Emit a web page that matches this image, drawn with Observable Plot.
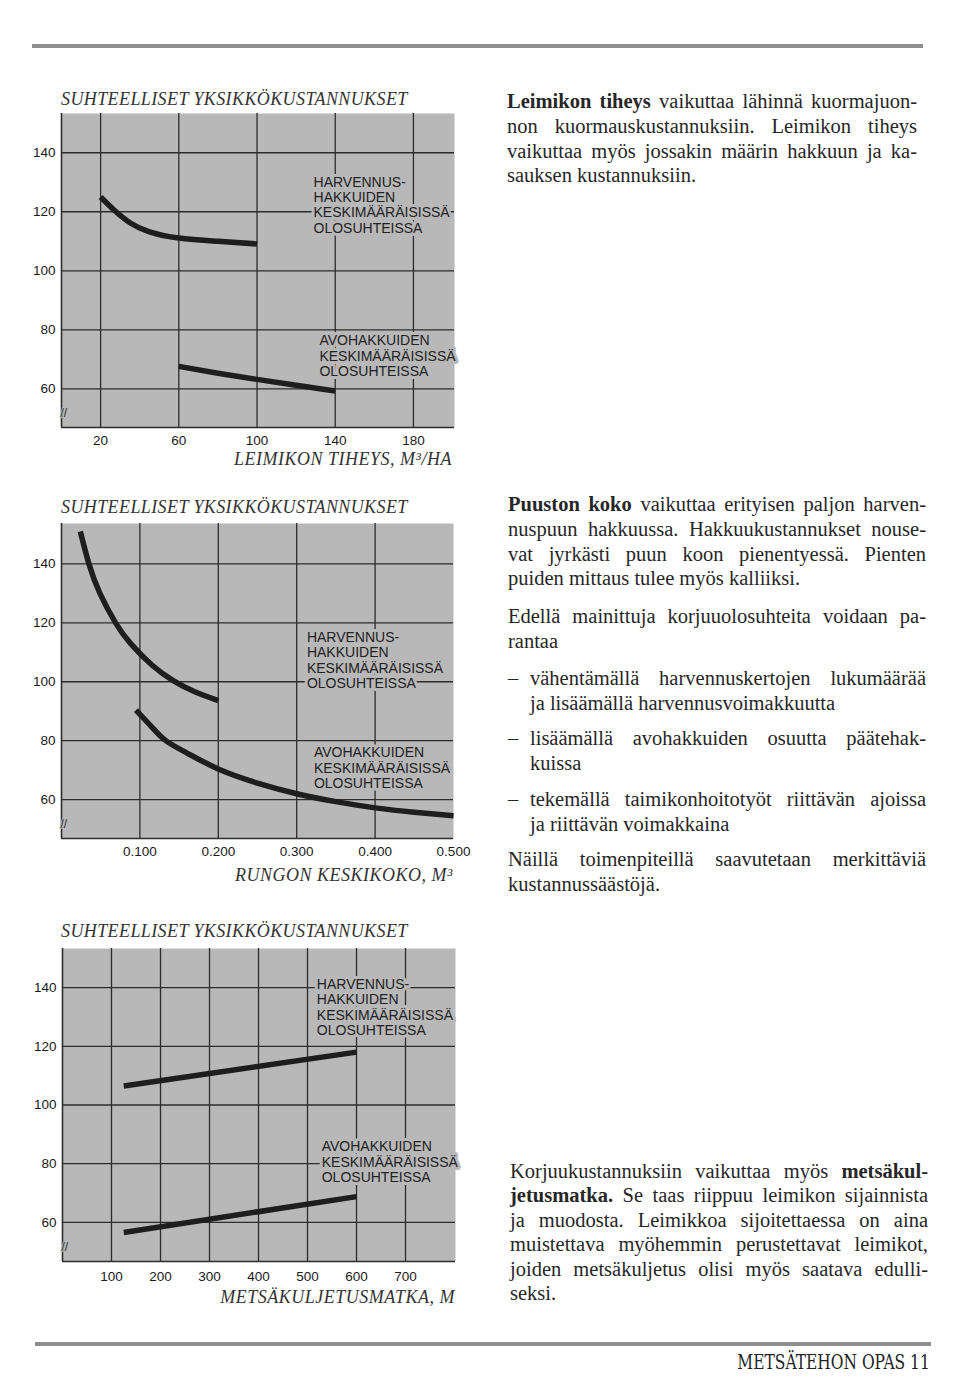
<!DOCTYPE html>
<html><head><meta charset="utf-8">
<script src="https://cdn.jsdelivr.net/npm/d3@7"></script>
<script src="https://cdn.jsdelivr.net/npm/@observablehq/plot@0.6"></script>
<style>
html,body{margin:0;padding:0;background:#fff;}
#page{position:relative;width:960px;height:1389px;overflow:hidden;background:#fff;color:#222;}
.rule{position:absolute;height:4px;background:#8e8e8e;}
.ctitle,.xlab{position:absolute;font-family:"Liberation Serif","Times New Roman",serif;font-style:italic;font-size:18px;line-height:20px;letter-spacing:0.4px;color:#333;white-space:nowrap;}
.xlab{text-align:right;letter-spacing:0.5px;}
.chart{position:absolute;left:0;}
.para{position:absolute;font-family:"Liberation Serif","Times New Roman",serif;font-size:20.5px;line-height:24.8px;color:#262626;}
.para .l{text-align:justify;text-align-last:justify;}
.para .l.last{text-align-last:left;}
.para b{font-weight:bold;}
.bul{padding-left:22px;}
.bul .dash{position:absolute;left:0;top:0;}
.footer{position:absolute;right:30px;top:1350px;font-family:"DejaVu Serif Condensed","DejaVu Serif",serif;font-size:20px;line-height:24px;color:#222;white-space:nowrap;transform:scaleX(0.86);transform-origin:right center;}
</style>
</head><body>
<div id="page">
  <div class="rule" style="left:32px;top:44px;width:891px;"></div>

  <div class="ctitle" style="left:61px;top:89px;">SUHTEELLISET YKSIKKÖKUSTANNUKSET</div>
  <div class="chart" id="c1" style="top:108px;"></div>
  <div class="xlab" style="right:508px;top:449px;">LEIMIKON TIHEYS, M³/HA</div>

  <div class="ctitle" style="left:61px;top:497px;">SUHTEELLISET YKSIKKÖKUSTANNUKSET</div>
  <div class="chart" id="c2" style="top:518px;"></div>
  <div class="xlab" style="right:507px;top:865px;">RUNGON KESKIKOKO, M³</div>

  <div class="ctitle" style="left:61px;top:921px;">SUHTEELLISET YKSIKKÖKUSTANNUKSET</div>
  <div class="chart" id="c3" style="top:943px;"></div>
  <div class="xlab" style="right:505px;top:1287px;">METSÄKULJETUSMATKA, M</div>

  <div class="para" style="left:507px;top:89px;width:410px;">
    <div class="l"><b>Leimikon tiheys</b> vaikuttaa lähinnä kuormajuon-</div>
    <div class="l">non kuormauskustannuksiin. Leimikon tiheys</div>
    <div class="l">vaikuttaa myös jossakin määrin hakkuun ja ka-</div>
    <div class="l last">sauksen kustannuksiin.</div>
  </div>

  <div class="para" style="left:508px;top:492px;width:418px;">
    <div class="l"><b>Puuston koko</b> vaikuttaa erityisen paljon harven-</div>
    <div class="l">nuspuun hakkuussa. Hakkuukustannukset nouse-</div>
    <div class="l">vat jyrkästi puun koon pienentyessä. Pienten</div>
    <div class="l last">puiden mittaus tulee myös kalliiksi.</div>
  </div>
  <div class="para" style="left:508px;top:604px;width:418px;">
    <div class="l">Edellä mainittuja korjuuolosuhteita voidaan pa-</div>
    <div class="l last">rantaa</div>
  </div>
  <div class="para bul" style="left:508px;top:666px;width:396px;">
    <span class="dash">–</span>
    <div class="l">vähentämällä harvennuskertojen lukumäärää</div>
    <div class="l last">ja lisäämällä harvennusvoimakkuutta</div>
  </div>
  <div class="para bul" style="left:508px;top:726px;width:396px;">
    <span class="dash">–</span>
    <div class="l">lisäämällä avohakkuiden osuutta päätehak-</div>
    <div class="l last">kuissa</div>
  </div>
  <div class="para bul" style="left:508px;top:787px;width:396px;">
    <span class="dash">–</span>
    <div class="l">tekemällä taimikonhoitotyöt riittävän ajoissa</div>
    <div class="l last">ja riittävän voimakkaina</div>
  </div>
  <div class="para" style="left:508px;top:847px;width:418px;">
    <div class="l">Näillä toimenpiteillä saavutetaan merkittäviä</div>
    <div class="l last">kustannussäästöjä.</div>
  </div>

  <div class="para" style="left:510px;top:1159px;width:418px;line-height:24.4px;">
    <div class="l">Korjuukustannuksiin vaikuttaa myös <b>metsäkul-</b></div>
    <div class="l"><b>jetusmatka.</b> Se taas riippuu leimikon sijainnista</div>
    <div class="l">ja muodosta. Leimikkoa sijoitettaessa on aina</div>
    <div class="l">muistettava myöhemmin perustettavat leimikot,</div>
    <div class="l">joiden metsäkuljetus olisi myös saatava edulli-</div>
    <div class="l last">seksi.</div>
  </div>

  <div class="rule" style="left:35px;top:1342px;width:896px;"></div>
  <div class="footer">METSÄTEHON OPAS 11</div>
</div>
<script>
// ---- data ----
const yTicks = [60, 80, 100, 120, 140];

// Chart 1: stand density (m3/ha)
const densityTicks = [20, 60, 100, 140, 180];
const harv1X = [20, 27, 35, 45, 60, 80, 100];
const harv1Y = [125, 120.5, 116.3, 113.2, 111.1, 110, 109.1];
const avo1X = [60, 80, 100, 120, 140];
const avo1Y = [67.6, 65.3, 63.2, 61.2, 59.3];

// Chart 2: mean stem size (m3)
const sizeTicks = [0.1, 0.2, 0.3, 0.4, 0.5];
const sizeGrid = [0.1, 0.2, 0.3, 0.4];
const harv2X = [0.024, 0.035, 0.049, 0.069, 0.088, 0.116, 0.143, 0.17, 0.2];
const harv2Y = [151, 140, 130, 120, 113, 105.5, 100.3, 96.6, 93.6];
const avo2X = [0.095, 0.115, 0.133, 0.16, 0.2, 0.25, 0.3, 0.35, 0.4, 0.45, 0.5];
const avo2Y = [90.4, 84.7, 80, 75.8, 70.4, 65.6, 62, 59.3, 57.2, 55.7, 54.5];

// Chart 3: forwarding distance (m)
const distTicks = [100, 200, 300, 400, 500, 600, 700];
const harv3X = [125, 600];
const harv3Y = [106.5, 118];
const avo3X = [125, 600];
const avo3Y = [56.6, 68.8];

const HARV_LABEL = "HARVENNUS-\nHAKKUIDEN\nKESKIMÄÄRÄISISSÄ\nOLOSUHTEISSA";
const AVO_LABEL = "AVOHAKKUIDEN\nKESKIMÄÄRÄISISSÄ\nOLOSUHTEISSA";

// ---- drawing ----
const BG = "#b8b8b8", GRID = "#2c2c2c", INK = "#1e1e1e";
const pts = (xs, ys) => xs.map((x, i) => ({x, y: ys[i]}));
const hasAxisMarks = typeof Plot.axisX === "function";

function makeChart(cfg) {
  const marks = [
    Plot.frame({fill: BG, stroke: "none"}),
    Plot.ruleX(cfg.gridX, {stroke: GRID, strokeWidth: 1.3}),
    Plot.ruleY(yTicks, {stroke: GRID, strokeWidth: 1.3}),
    Plot.text(cfg.labels, {x: "x", y: "y", text: "text", textAnchor: "start", lineAnchor: "middle",
      lineHeight: 1.1, fontSize: 14, fill: "#222", stroke: BG, strokeWidth: 6,
      strokeLinejoin: "round", paintOrder: "stroke"}),
    ...cfg.series.map(s => Plot.line(s, {x: "x", y: "y", stroke: INK, strokeWidth: 5.5,
      curve: "natural", strokeLinecap: "butt"})),
    Plot.ruleX([cfg.xDomain[0]], {stroke: GRID, strokeWidth: 1.6}),
    Plot.ruleY([cfg.yDomain[0]], {stroke: GRID, strokeWidth: 1.6}),
    Plot.text(["//"], {frameAnchor: "bottom-left", text: d => d, dy: -11, dx: -1, fontSize: 12,
      fill: GRID, stroke: BG, strokeWidth: 2, paintOrder: "stroke"})
  ];
  if (hasAxisMarks) {
    marks.push(
      Plot.axisX({ticks: cfg.xTicks, tickFormat: cfg.xFormat, tickSize: 0, tickPadding: cfg.xPad,
        fontSize: 13.5, fill: "#1a1a1a", label: null}),
      Plot.axisY({ticks: yTicks, tickSize: 0, tickPadding: 6, fontSize: 13.5, fill: "#1a1a1a", label: null})
    );
  }
  return Plot.plot({
    width: cfg.width, height: cfg.height,
    marginLeft: cfg.marginLeft, marginRight: 20, marginTop: 5, marginBottom: 26,
    x: {domain: cfg.xDomain, ticks: cfg.xTicks, tickFormat: cfg.xFormat, tickSize: 0,
        tickPadding: cfg.xPad, label: null},
    y: {domain: cfg.yDomain, ticks: yTicks, tickSize: 0, tickPadding: 6, label: null},
    style: {fontFamily: '"Liberation Sans", Arial, sans-serif', fontSize: "13.5px",
            color: "#1a1a1a", background: "none", overflow: "visible"},
    marks
  });
}

document.getElementById("c1").append(makeChart({
  width: 474, height: 345, marginLeft: 61, xPad: 8,
  xDomain: [0, 201], yDomain: [46.9, 153.3],
  xTicks: densityTicks, xFormat: d3.format("d"), gridX: densityTicks,
  series: [pts(harv1X, harv1Y), pts(avo1X, avo1Y)],
  labels: [{x: 128.9, y: 122.4, text: HARV_LABEL}, {x: 131.9, y: 71.2, text: AVO_LABEL}]
}));

document.getElementById("c2").append(makeChart({
  width: 473, height: 346, marginLeft: 61, xPad: 8,
  xDomain: [0, 0.5], yDomain: [46.8, 153.7],
  xTicks: sizeTicks, xFormat: d3.format(".3f"), gridX: sizeGrid,
  series: [pts(harv2X, harv2Y), pts(avo2X, avo2Y)],
  labels: [{x: 0.313, y: 107.3, text: HARV_LABEL}, {x: 0.322, y: 70.8, text: AVO_LABEL}]
}));

document.getElementById("c3").append(makeChart({
  width: 475, height: 344, marginLeft: 62, xPad: 10,
  xDomain: [0, 802], yDomain: [46.7, 153.3],
  xTicks: distTicks, xFormat: d3.format("d"), gridX: distTicks,
  series: [pts(harv3X, harv3Y), pts(avo3X, avo3Y)],
  labels: [{x: 519, y: 133.3, text: HARV_LABEL}, {x: 529, y: 80.7, text: AVO_LABEL}]
}));
</script>
</body></html>
